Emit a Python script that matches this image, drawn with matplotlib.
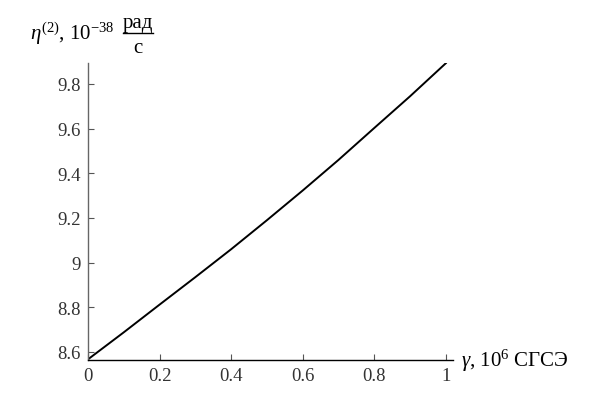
import numpy as np
import matplotlib
matplotlib.use('Agg')
import matplotlib.pyplot as plt

plt.rcParams['font.family'] = ['Liberation Serif', 'DejaVu Serif']
plt.rcParams['mathtext.fontset'] = 'custom'
plt.rcParams['mathtext.rm'] = 'Liberation Serif'
plt.rcParams['mathtext.it'] = 'Liberation Serif:italic'

gamma = [0.0, 0.1, 0.2, 0.3, 0.4, 0.5, 0.6, 0.7, 0.8, 0.9, 1.0]
eta2 = [8.567, 8.688, 8.812, 8.935, 9.060, 9.190, 9.323, 9.460, 9.603, 9.745, 9.893]
xticks = [0, 0.2, 0.4, 0.6, 0.8, 1]
xlabels = ['0', '0.2', '0.4', '0.6', '0.8', '1']
yticks = [8.6, 8.8, 9.0, 9.2, 9.4, 9.6, 9.8]
ylabels = ['8.6', '8.8', '9', '9.2', '9.4', '9.6', '9.8']

fig = plt.figure(figsize=(5.89, 4.02), dpi=100)
ax = fig.add_axes([88/589, 1-361/402, (453-88)/589, (361-64)/402])
ax.plot(gamma, eta2, color='black', lw=1.4)

ax.set_xlim(0, 1.02)
ax.set_ylim(8.564, 9.894)
ax.set_xticks(xticks)
ax.set_xticklabels(xlabels)
ax.set_yticks(yticks)
ax.set_yticklabels(ylabels)
ax.tick_params(direction='in', length=4, width=0.8, color='#555555',
               labelsize=13.5, labelcolor='#333333', pad=5)

for s in ['top', 'right']:
    ax.spines[s].set_visible(False)
ax.spines['left'].set_color('#666666')
ax.spines['bottom'].set_color('black')
for s in ['left', 'bottom']:
    ax.spines[s].set_linewidth(1.0)

# axis labels
fig.text(30/589, 1-40/402, r'$\mathit{\eta}^{(2)}$, $10^{-38}$', fontsize=15,
         va='baseline', ha='left')
fig.text(138/589, 1-28/402, 'рад', fontsize=15, ha='center', va='baseline')
fig.add_artist(plt.Line2D([123/589, 153/589], [1-34/402, 1-34/402],
                          color='black', lw=1.0, transform=fig.transFigure))
fig.text(138/589, 1-53/402, 'с', fontsize=15, ha='center', va='baseline')

fig.text(461/589, 1-367/402, r'$\mathit{\gamma}$, $10^{6}$ СГСЭ', fontsize=15,
         ha='left', va='baseline')

fig.savefig('out.png', dpi=100)
